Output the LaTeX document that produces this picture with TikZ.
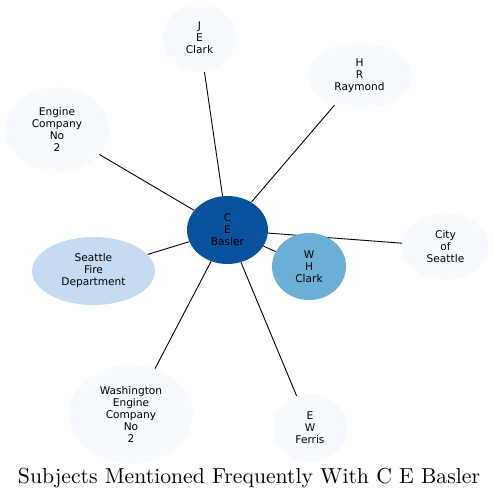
\documentclass[tikz,border=0pt]{standalone}
\usepackage{fontspec}
\usepackage{graphicx}
\usetikzlibrary{shapes.geometric, backgrounds}
\newfontfamily\subjfont{DejaVu Sans}

\definecolor{hubblue}{HTML}{08519C}
\definecolor{midblue}{HTML}{6BAED6}
\definecolor{paleblue}{HTML}{C6DBEF}
\definecolor{faintblue}{HTML}{F7FBFF}

\tikzset{
    subject/.style={ellipse, draw=none, fill=faintblue, inner sep=0pt,
        align=center, font=\subjfont\fontsize{10.6}{12}\selectfont},
    link/.style={draw=black, line width=0.9pt}
}

\begin{document}
\begin{tikzpicture}[x=1pt, y=-1pt]
    \useasboundingbox (0, 0) rectangle (494, 500);

    % Nodes
    \node[subject, fill=hubblue, minimum width=81pt, minimum height=68pt] at (227.5, 230) (basler) {C\\E\\Basler};
    \node[subject, fill=midblue, minimum width=74pt, minimum height=67pt] at (309, 266.5) (whclark) {W\\H\\Clark};
    \node[subject, minimum width=73pt, minimum height=68pt] at (199.5, 38) (jeclark) {J\\E\\Clark};
    \node[subject, minimum width=104pt, minimum height=66pt] at (359.5, 76) (raymond) {H\\R\\Raymond};
    \node[subject, minimum width=104pt, minimum height=85pt] at (57, 129.5) (engine) {Engine\\Company\\No\\2};
    \node[subject, minimum width=87pt, minimum height=67pt] at (445.5, 246.5) (seattle) {City\\of\\Seattle};
    \node[subject, fill=paleblue, minimum width=123pt, minimum height=68pt] at (93.5, 271) (fire) {Seattle\\Fire\\Department};
    \node[subject, minimum width=124pt, minimum height=99pt] at (131, 414.5) (washington) {Washington\\Engine\\Company\\No\\2};
    \node[subject, minimum width=74pt, minimum height=68pt] at (310, 428) (ferris) {E\\W\\Ferris};

    % Edges
    \begin{scope}[on background layer]
        \draw[link] (basler) -- (jeclark);
        \draw[link] (basler) -- (raymond);
        \draw[link] (basler) -- (engine);
        \draw[link] (basler) -- (seattle);
        \draw[link] (basler) -- (whclark);
        \draw[link] (basler) -- (fire);
        \draw[link] (basler) -- (washington);
        \draw[link] (basler) -- (ferris);
    \end{scope}

    % Title
    \node[inner sep=0pt] at (249, 478) (title) {\resizebox{462pt}{!}{Subjects Mentioned Frequently With C E Basler}};
\end{tikzpicture}
\end{document}
